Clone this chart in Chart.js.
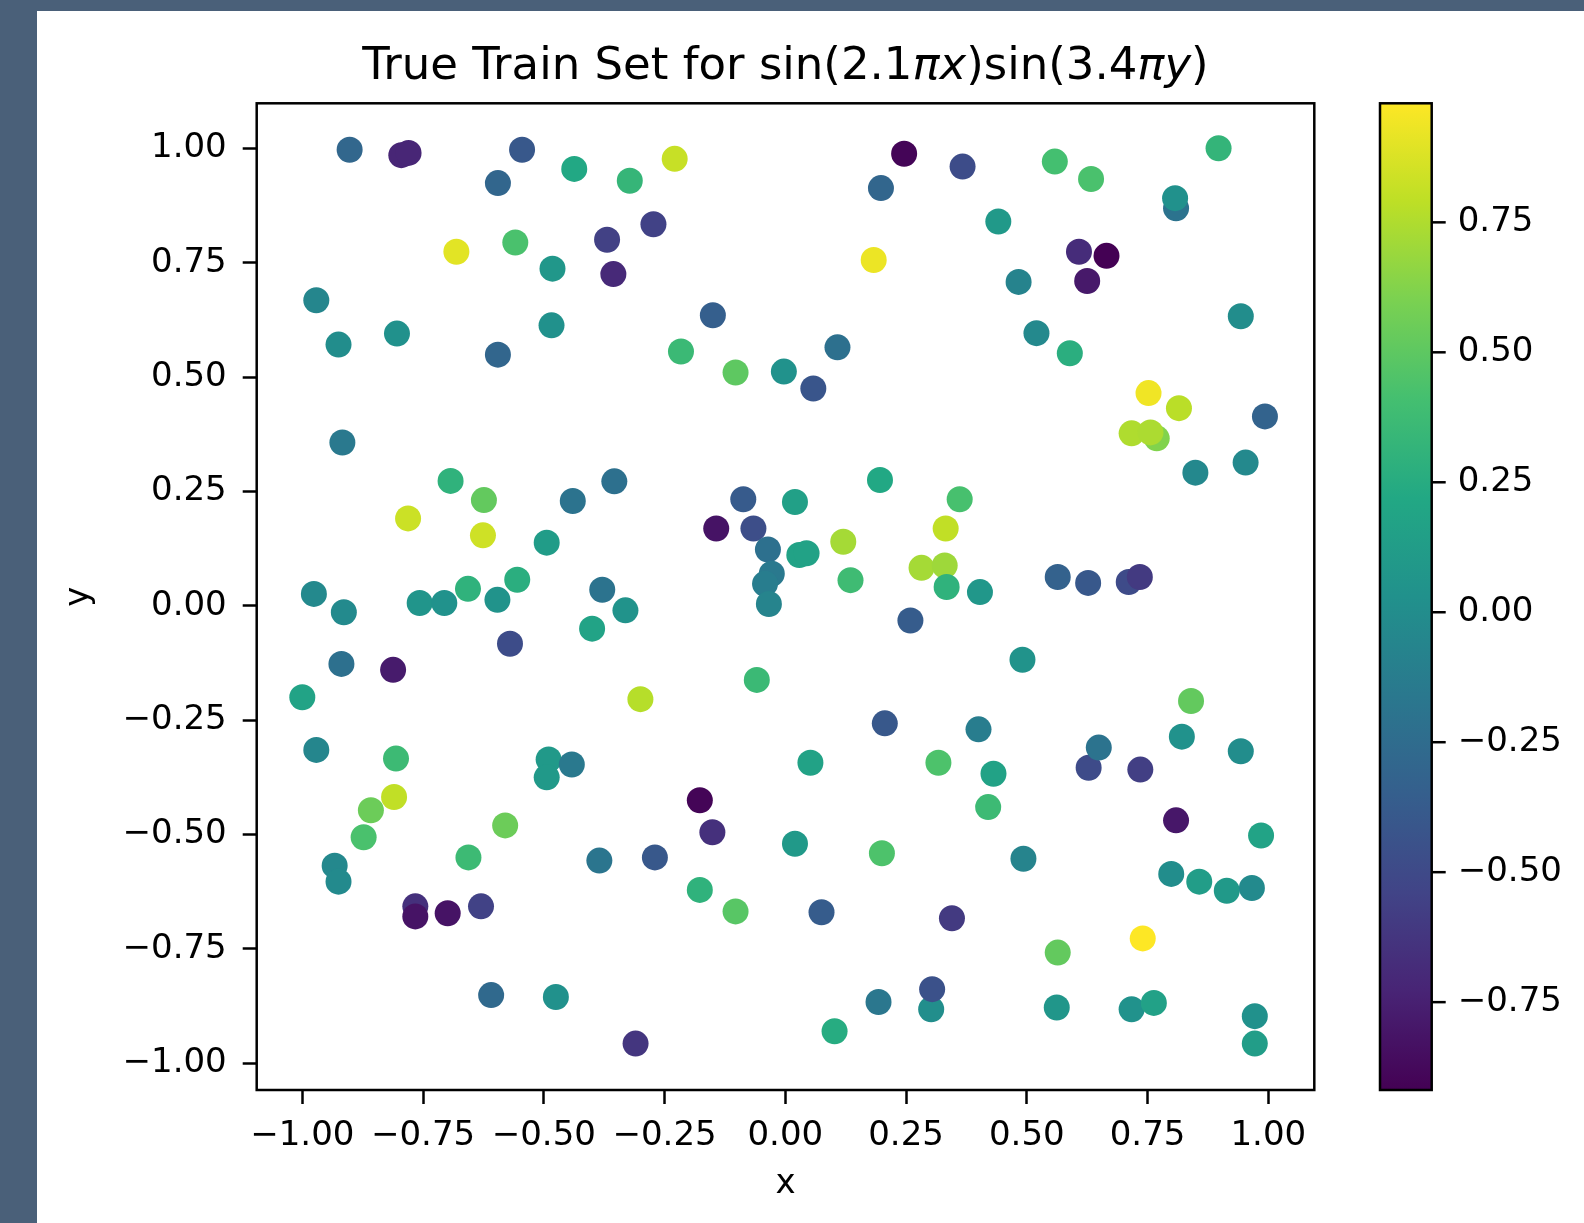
<!DOCTYPE html>
<html>
<head>
<meta charset="utf-8">
<script src="https://cdn.jsdelivr.net/npm/chart.js@4.4.1/dist/chart.umd.min.js"></script>
<style>
  html, body { margin: 0; padding: 0; background: #4a6079; }
  canvas { display: block; }
</style>
</head>
<body>
<canvas id="chart" width="1584" height="1223"></canvas>
<script>
// sample points: x, y and the colour value
const xVals = [
  -0.902, -0.795, -0.780, -0.545, -0.595, -0.437, -0.322, -0.229, -0.273, -0.369,
  -0.356, -0.681, -0.559, -0.482, -0.484, -0.595, -0.971, -0.925, -0.804, -0.917,
  -0.693, -0.624, -0.781, -0.626, -0.440, -0.354, -0.494, -0.976, -0.914, -0.757,
  -0.706, -0.657, -0.596, -0.555, -0.379, -0.331, -0.400, -0.570, -0.919, -0.812,
  -1.000, -0.971, -0.806, -0.858, -0.810, -0.873, -0.933, -0.925, -0.580, -0.656,
  -0.490, -0.494, -0.442, -0.766, -0.766, -0.699, -0.630, -0.609, -0.475, -0.385,
  -0.270, -0.310, -0.300, -0.177, -0.151, -0.177, -0.103, -0.059, -0.143, -0.087,
  -0.066, -0.036, -0.028, -0.042, -0.034, 0.020, 0.029, 0.044, 0.120, 0.135,
  0.196, 0.332, 0.282, 0.330, 0.334, 0.361, 0.259, 0.403, 0.052, 0.020,
  0.075, 0.206, 0.200, 0.317, 0.345, 0.400, 0.431, 0.420, 0.491, 0.493,
  0.102, 0.193, 0.302, 0.304, 0.564, 0.562, 0.717, 0.763, 0.972, 0.972,
  0.740, 0.809, 0.735, 0.628, 0.649, 0.821, 0.840, 0.943, 0.985, 0.799,
  0.857, 0.914, 0.966, 0.246, 0.198, 0.367, 0.183, -0.150, -0.216, -0.103,
  -0.003, 0.058, 0.108, 0.558, 0.633, 0.897, 0.809, 0.807, 0.441, 0.608,
  0.665, 0.625, 0.483, 0.520, 0.589, 0.943, 0.752, 0.815, 0.769, 0.717,
  0.756, 0.993, 0.953, 0.849, 0.564, 0.627, 0.711, 0.734
];
const yVals = [
  0.997, 0.985, 0.990, 0.997, 0.924, 0.955, 0.929, 0.977, 0.834, 0.800,
  0.725, 0.774, 0.794, 0.737, 0.613, 0.549, 0.668, 0.571, 0.595, 0.357,
  0.273, 0.231, 0.191, 0.154, 0.229, 0.272, 0.138, 0.026, -0.014, 0.006,
  0.006, 0.037, 0.013, 0.057, 0.035, -0.010, -0.050, -0.083, -0.127, -0.140,
  -0.200, -0.315, -0.334, -0.447, -0.418, -0.506, -0.568, -0.603, -0.480, -0.550,
  -0.336, -0.375, -0.347, -0.657, -0.679, -0.672, -0.657, -0.851, -0.855, -0.557,
  -0.550, -0.957, -0.204, -0.425, -0.495, -0.621, -0.668, -0.162, 0.169, 0.233,
  0.169, 0.123, 0.070, 0.048, 0.004, 0.227, 0.111, 0.115, 0.140, 0.056,
  0.275, 0.169, 0.083, 0.088, 0.041, 0.233, -0.032, 0.030, -0.343, -0.520,
  -0.670, -0.257, -0.541, -0.343, -0.683, -0.270, -0.367, -0.440, -0.118, -0.553,
  -0.930, -0.866, -0.882, -0.838, -0.758, -0.878, -0.882, -0.868, -0.897, -0.957,
  -0.727, -0.469, -0.358, -0.354, -0.310, -0.286, -0.208, -0.318, -0.502, -0.586,
  -0.603, -0.623, -0.617, 0.988, 0.913, 0.960, 0.756, 0.635, 0.556, 0.510,
  0.512, 0.475, 0.565, 0.971, 0.933, 1.000, 0.869, 0.891, 0.840, 0.774,
  0.765, 0.710, 0.708, 0.596, 0.552, 0.633, 0.465, 0.432, 0.366, 0.377,
  0.379, 0.414, 0.313, 0.291, 0.063, 0.050, 0.052, 0.063
];
const zVals = [
  -0.29, -0.72, -0.72, -0.40, -0.30, 0.22, 0.33, 0.82, -0.55, -0.56,
  -0.70, 0.90, 0.43, 0.08, 0.03, -0.30, -0.05, 0.00, 0.03, -0.15,
  0.30, 0.52, 0.83, 0.84, -0.20, -0.22, 0.12, -0.03, -0.02, 0.06,
  0.04, 0.30, 0.05, 0.27, -0.20, 0.05, 0.18, -0.48, -0.22, -0.78,
  0.18, -0.05, 0.37, 0.55, 0.80, 0.43, -0.04, -0.02, 0.55, 0.37,
  0.10, 0.10, -0.15, -0.66, -0.82, -0.82, -0.55, -0.27, 0.03, -0.18,
  -0.40, -0.62, 0.77, -0.90, -0.66, 0.30, 0.48, 0.36, -0.82, -0.38,
  -0.47, -0.22, -0.15, -0.12, -0.07, 0.15, 0.17, 0.17, 0.72, 0.38,
  0.22, 0.80, 0.72, 0.70, 0.30, 0.42, -0.37, 0.08, 0.17, 0.10,
  -0.37, -0.40, 0.44, 0.44, -0.60, -0.12, 0.17, 0.37, 0.05, -0.07,
  0.25, -0.17, 0.01, -0.45, 0.52, 0.07, 0.04, 0.16, 0.03, 0.13,
  0.979, -0.80, -0.57, -0.49, -0.20, 0.04, 0.52, 0.00, 0.18, 0.00,
  0.13, 0.10, -0.02, -0.90, -0.30, -0.48, 0.93, -0.35, 0.36, 0.50,
  0.04, -0.42, -0.22, 0.41, 0.43, 0.32, -0.20, 0.03, 0.10, -0.68,
  -0.919, -0.79, -0.08, -0.03, 0.27, 0.00, 0.94, 0.78, 0.62, 0.75,
  0.74, -0.32, -0.03, -0.04, -0.33, -0.40, -0.49, -0.60
];

const xTicks = [-1, -0.75, -0.5, -0.25, 0, 0.25, 0.5, 0.75, 1];
const yTicks = [-1, -0.75, -0.5, -0.25, 0, 0.25, 0.5, 0.75, 1];
const cbTicks = [-0.75, -0.5, -0.25, 0, 0.25, 0.5, 0.75];

const zMin = Math.min(...zVals);
const zMax = Math.max(...zVals);

// viridis colour map
const viridis = ['#440154', '#482475', '#414487', '#355f8d', '#2a788e', '#21918c',
                 '#22a884', '#44bf70', '#7ad151', '#bddf26', '#fde725'];

function hexToRgb(h) {
  return [parseInt(h.slice(1, 3), 16), parseInt(h.slice(3, 5), 16), parseInt(h.slice(5, 7), 16)];
}

function viridisColor(v) {
  let t = (v - zMin) / (zMax - zMin);
  t = Math.max(0, Math.min(1, t)) * (viridis.length - 1);
  const i = Math.min(Math.floor(t), viridis.length - 2);
  const f = t - i;
  const a = hexToRgb(viridis[i]), b = hexToRgb(viridis[i + 1]);
  const c = a.map((av, k) => Math.round(av + (b[k] - av) * f));
  return `rgb(${c[0]},${c[1]},${c[2]})`;
}

const fmt = (v) => (v < 0 ? '\u2212' : '') + Math.abs(v).toFixed(2);

const FONT = "'DejaVu Sans', sans-serif";

// dark frame round the white figure
const backgroundPlugin = {
  id: 'background',
  beforeDraw(chart) {
    const { ctx, width, height } = chart;
    ctx.save();
    ctx.fillStyle = '#4a6079';
    ctx.fillRect(0, 0, width, height);
    ctx.fillStyle = '#ffffff';
    ctx.fillRect(37, 11, width - 37, height - 11);
    ctx.restore();
  }
};

// axes box, colour bar and title
const decorPlugin = {
  id: 'decor',
  afterDraw(chart) {
    const { ctx, chartArea } = chart;
    ctx.save();

    // plot frame
    ctx.strokeStyle = '#000';
    ctx.lineWidth = 2.5;
    ctx.strokeRect(chartArea.left, chartArea.top, chartArea.right - chartArea.left, chartArea.bottom - chartArea.top);

    // colour bar
    const cb = chart.scales.cb;
    const top = cb.getPixelForValue(zMax);
    const bottom = cb.getPixelForValue(zMin);
    const left = chartArea.right + 65.7;
    const w = 51.7;
    const grad = ctx.createLinearGradient(0, bottom, 0, top);
    viridis.forEach((c, i) => grad.addColorStop(i / (viridis.length - 1), c));
    ctx.fillStyle = grad;
    ctx.fillRect(left, top, w, bottom - top);
    ctx.strokeRect(left, top, w, bottom - top);

    ctx.fillStyle = '#000';
    ctx.font = `34px ${FONT}`;
    ctx.textAlign = 'left';
    ctx.textBaseline = 'middle';
    cbTicks.forEach((v) => {
      const y = cb.getPixelForValue(v);
      ctx.beginPath();
      ctx.moveTo(left + w, y);
      ctx.lineTo(left + w + 14, y);
      ctx.stroke();
      ctx.fillText(fmt(v), left + w + 26, y);
    });

    // title with italic math parts
    const parts = [
      ['True Train Set for sin(2.1', false],
      ['\u03c0x', true],
      [')sin(3.4', false],
      ['\u03c0y', true],
      [')', false]
    ];
    const size = 45;
    let total = 0;
    parts.forEach(([t, it]) => {
      ctx.font = `${it ? 'italic ' : ''}${size}px ${FONT}`;
      total += ctx.measureText(t).width;
    });
    let x = (chartArea.left + chartArea.right) / 2 - total / 2;
    ctx.textBaseline = 'alphabetic';
    parts.forEach(([t, it]) => {
      ctx.font = `${it ? 'italic ' : ''}${size}px ${FONT}`;
      ctx.fillText(t, x, 79);
      x += ctx.measureText(t).width;
    });

    ctx.restore();
  }
};

const points = xVals.map((x, i) => ({ x: x, y: yVals[i] }));

new Chart(document.getElementById('chart'), {
  type: 'scatter',
  data: {
    datasets: [{
      data: points,
      backgroundColor: zVals.map(viridisColor),
      borderWidth: 0,
      pointRadius: 13,
      pointHoverRadius: 13
    }]
  },
  options: {
    responsive: false,
    animation: false,
    devicePixelRatio: 1,
    layout: { padding: { left: 0, top: 103.3, right: 269.7, bottom: 0 } },
    plugins: {
      legend: { display: false },
      tooltip: { enabled: false }
    },
    scales: {
      x: {
        type: 'linear',
        min: -1.0944,
        max: 1.0952,
        afterBuildTicks: (s) => { s.ticks = xTicks.map((v) => ({ value: v })); },
        afterFit: (s) => { s.height = 133; },
        grid: { drawOnChartArea: false, drawTicks: true, tickLength: 14, tickWidth: 2.5, tickColor: '#000' },
        border: { display: false },
        ticks: {
          callback: fmt,
          color: '#000',
          padding: 12,
          maxRotation: 0,
          autoSkip: false,
          font: { family: FONT, size: 34 }
        },
        title: {
          display: true,
          text: 'x',
          color: '#000',
          font: { family: FONT, size: 34 },
          padding: { top: 0, bottom: 18.6 }
        }
      },
      y: {
        type: 'linear',
        min: -1.0584,
        max: 1.0984,
        afterBuildTicks: (s) => { s.ticks = yTicks.map((v) => ({ value: v })); },
        afterFit: (s) => { s.width = 256.7; },
        grid: { drawOnChartArea: false, drawTicks: true, tickLength: 14, tickWidth: 2.5, tickColor: '#000' },
        border: { display: false },
        ticks: {
          callback: fmt,
          color: '#000',
          padding: 16,
          autoSkip: false,
          font: { family: FONT, size: 34 }
        },
        title: {
          display: true,
          text: 'y',
          color: '#000',
          font: { family: FONT, size: 34 },
          padding: { top: 58.6, bottom: 0 }
        }
      },
      cb: {
        type: 'linear',
        axis: 'y',
        position: 'right',
        display: false,
        min: zMin,
        max: zMax
      }
    }
  },
  plugins: [backgroundPlugin, decorPlugin]
});
</script>
</body>
</html>
